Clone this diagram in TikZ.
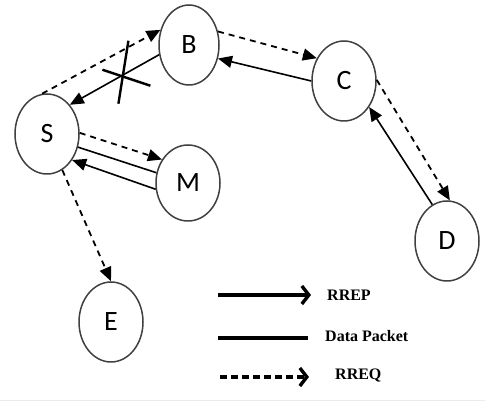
\documentclass[tikz,border=0pt]{standalone}
\usepackage{fontspec}
\setmainfont{Carlito}
\newfontfamily\keyfont{Liberation Serif}
\usetikzlibrary{shapes.geometric,arrows.meta}

\begin{document}
\begin{tikzpicture}[
        x=1pt, y=1pt,
        host/.style={draw=black!75, line width=1.5pt, ellipse,
            minimum width=64pt, minimum height=80pt, inner sep=0pt,
            font=\fontsize{28}{30}\selectfont},
        rreq/.style={dash pattern=on 6pt off 5pt, line width=1.8pt,
            -{Triangle[length=14pt,width=12pt]}},
        rrep/.style={line width=1.6pt, -{Triangle[length=14pt,width=12pt]}},
        data/.style={line width=1.6pt},
        keyline/.style={line width=3.4pt},
        keytext/.style={anchor=west, inner sep=0pt,
            font=\keyfont\bfseries\fontsize{16}{18}\selectfont}]
        \useasboundingbox (0,0) rectangle (485,401);
        % NODES
        % source
        \node[host] (S) at (47,267) {S};
        % route through B and C
        \node[host, minimum width=60pt] (B) at (189,356) {B};
        \node[host] (C) at (344,320) {C};
        % destination
        \node[host] (D) at (447,160) {D};
        % other neighbours of S
        \node[host, minimum height=76pt] (M) at (188,218) {M};
        \node[host] (E) at (111,79) {E};

        % ARROWS
        % route request flood
        \draw[rreq] (S.97)--(B.152);
        \draw[rreq] (B.25)--(C.140);
        \draw[rreq] (C.2)--(D.86);
        \draw[rreq] (S.2)--(M.138);
        \draw[rreq] (S.293)--(E.90);
        % route reply back to S
        \draw[rrep] (D.112)--(C.314);
        \draw[rrep] (C.180)--(B.335);
        \draw[rrep] (B.198)-- coordinate[pos=0.4] (cut) (S.52);
        \draw[rrep] (M.191)--(S.314);
        % data packet S to M
        \draw[data] (S.337)--(M.162);
        % broken link B-S
        \draw[line width=2.4pt] ([shift={(5,34)}]cut)--([shift={(-5,-29)}]cut);
        \draw[line width=2.4pt] ([shift={(-21,5)}]cut)--([shift={(27,-11)}]cut);

        % LEGEND
        \coordinate (k1a) at (218,106);
        \coordinate (k1b) at (311,106);
        \coordinate (k2a) at (218,63);
        \coordinate (k2b) at (308,63);
        \coordinate (k3a) at (220,24);
        \coordinate (k3b) at (309,24);
        \draw[keyline, -{Straight Barb[length=7pt,width=18pt]}] (k1a)--(k1b);
        \draw[keyline] (k2a)--(k2b);
        \draw[keyline, dash pattern=on 7pt off 4pt,
            -{Straight Barb[length=7pt,width=18pt]}] (k3a)--(k3b);
        \node[keytext] (rrep) at (327,106) {RREP};
        \node[keytext] (data) at (325,65) {Data Packet};
        \node[keytext] (rreq) at (335,25) {RREQ};

        % faint rule along the bottom
        \draw[black!8] (0,1)--(485,1);
    \end{tikzpicture}
\end{document}
